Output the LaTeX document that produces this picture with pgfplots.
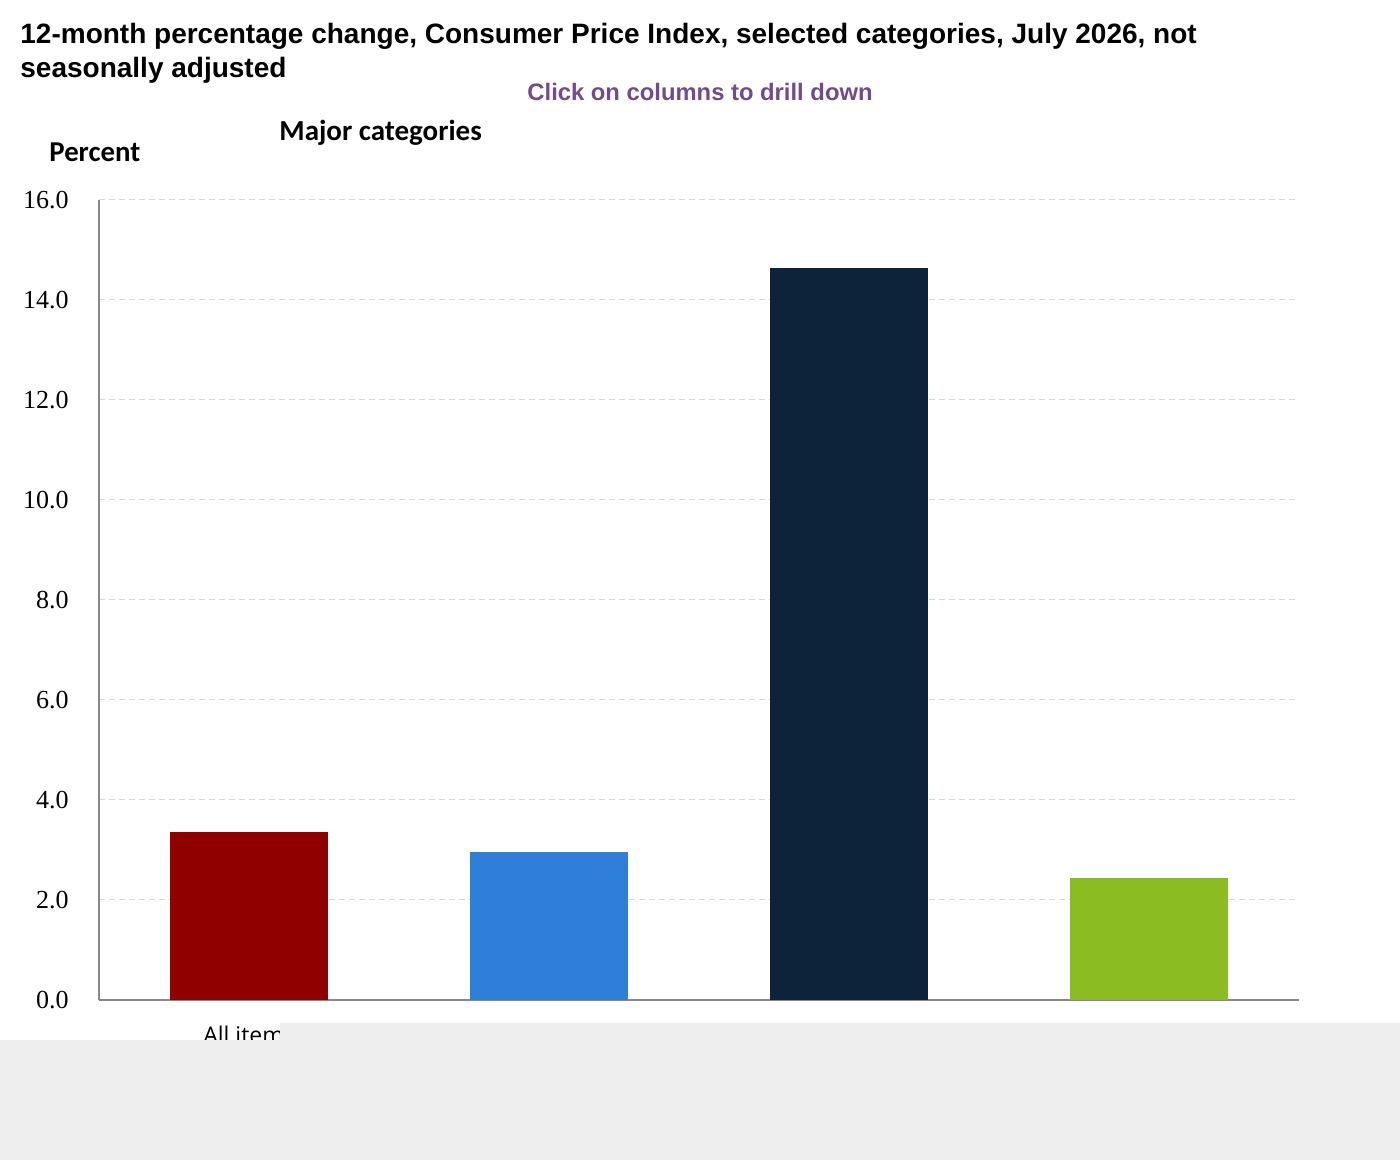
\documentclass[border=0pt]{standalone}
\usepackage{fontspec}
\usepackage{pgfplots}
\pgfplotsset{compat=1.18}
\setmainfont{Liberation Serif}
\newfontfamily\arialfont{Liberation Sans}
\newfontfamily\calfont{Carlito}
\newfontfamily\labfont{Open Sans}

\definecolor{cpired}{HTML}{910000}
\definecolor{cpiblue}{HTML}{2F7ED8}
\definecolor{cpinavy}{HTML}{0D233A}
\definecolor{cpigreen}{HTML}{8BBC21}
\definecolor{clickpurple}{HTML}{704C8C}
\definecolor{gridgray}{HTML}{D8D8D8}
\definecolor{axisgray}{HTML}{888888}
\definecolor{bggray}{HTML}{EEEEEE}

\begin{document}
\begin{tikzpicture}
\path[use as bounding box, fill=white] (0,0) rectangle (700pt,580pt);

% titles
\node[anchor=base west, inner sep=0pt, font=\arialfont\bfseries\fontsize{14pt}{16pt}\selectfont]
  at (10pt,558.3pt) {12-month percentage change, Consumer Price Index, selected categories, July 2026, not};
\node[anchor=base west, inner sep=0pt, font=\arialfont\bfseries\fontsize{14pt}{16pt}\selectfont]
  at (10pt,541.3pt) {seasonally adjusted};
\node[anchor=base, inner sep=0pt, text=clickpurple, font=\arialfont\bfseries\fontsize{11.9pt}{14pt}\selectfont]
  at (350pt,529.5pt) {Click on columns to drill down};
\node[anchor=base west, inner sep=0pt, font=\calfont\bfseries\fontsize{14.5pt}{17pt}\selectfont]
  at (139.5pt,509.5pt) {Major categories};
\node[anchor=base west, inner sep=0pt, font=\calfont\bfseries\fontsize{14.4pt}{17pt}\selectfont]
  at (24.5pt,499pt) {Percent};

\begin{axis}[
    at={(49.5pt,80pt)}, anchor=south west,
    scale only axis, width=600pt, height=400pt,
    xmin=-0.5, xmax=3.5,
    ymin=0, ymax=16,
    ytick={0,2,4,6,8,10,12,14,16},
    xtick={0,1,2,3},
    xticklabels={All items,Food,Energy,All items less food and energy},
    major tick length=0pt,
    axis x line*=bottom, axis y line*=left,
    axis line style={-, draw=axisgray, line width=1pt},
    ymajorgrids=true,
    grid style={gridgray, line width=0.5pt, dash pattern=on 3pt off 2pt},
    /pgf/number format/.cd, fixed, fixed zerofill, precision=1, assume math mode=true,
    /pgfplots/.cd,
    yticklabel style={anchor=east, inner sep=0pt, xshift=-15pt, font=\fontsize{13pt}{15pt}\selectfont},
    xticklabel style={anchor=north, inner sep=0pt, yshift=-12.8pt, font=\labfont\fontsize{11.5pt}{13pt}\selectfont},
    ybar, bar width=79pt,
    clip=false,
]
\addplot[fill=cpired, draw=none, bar shift=0pt] coordinates {(0,3.36)};
\addplot[fill=cpiblue, draw=none, bar shift=0pt] coordinates {(1,2.96)};
\addplot[fill=cpinavy, draw=none, bar shift=0pt] coordinates {(2,14.64)};
\addplot[fill=cpigreen, draw=none, bar shift=0pt] coordinates {(3,2.44)};
\end{axis}

% grey panel over the category labels
\fill[bggray] (0,0) rectangle (700pt,60pt);
\fill[bggray] (140pt,60pt) rectangle (700pt,68.5pt);
\end{tikzpicture}
\end{document}
